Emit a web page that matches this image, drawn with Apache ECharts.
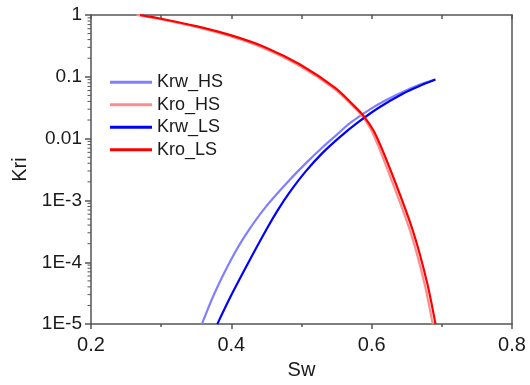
<!DOCTYPE html>
<html>
<head>
<meta charset="utf-8">
<script src="https://cdn.jsdelivr.net/npm/echarts@6/dist/echarts.min.js"></script>
<style>
html,body{margin:0;padding:0;background:#fff;}
#chart{width:530px;height:385px;}
</style>
</head>
<body>
<div id="chart"></div>
<script>
// ---- data ----
const swKrwHS = [0.358,0.376,0.398,0.419,0.448,0.483,0.506,0.530,0.550,0.569,0.597,0.620,0.645,0.668,0.690];
const krwHS   = [1e-5,3.16e-5,1.02e-4,2.63e-4,7.59e-4,2.14e-3,3.98e-3,7.24e-3,0.0115,0.0178,0.0295,0.0417,0.0575,0.0741,0.0902];

const swKroHS = [0.265,0.295,0.345,0.395,0.443,0.494,0.545,0.573,0.587,0.602,0.626,0.655,0.675,0.687];
const kroHS   = [1.0,0.871,0.661,0.468,0.302,0.158,0.0661,0.0339,0.0229,0.0120,0.00251,3.16e-4,4.68e-5,1e-5];

const swKrwLS = [0.380,0.400,0.4255,0.450,0.466,0.483,0.506,0.530,0.555,0.579,0.610,0.645,0.668,0.691];
const krwLS   = [1e-5,2.95e-5,1.05e-4,3.39e-4,6.92e-4,1.35e-3,2.95e-3,5.89e-3,0.0107,0.0178,0.0316,0.0537,0.0708,0.0902];

const swKroLS = [0.270,0.300,0.350,0.400,0.448,0.498,0.548,0.575,0.589,0.605,0.630,0.659,0.679,0.691];
const kroLS   = [1.0,0.871,0.661,0.468,0.302,0.158,0.0661,0.0339,0.0229,0.0120,0.00251,3.16e-4,4.68e-5,1e-5];

const seriesNames = ['Krw_HS','Kro_HS','Krw_LS','Kro_LS'];
const xTickLabels = ['0.2','0.4','0.6','0.8'];
const yTickLabels = ['1E-5','1E-4','1E-3','0.01','0.1','1'];
const yMinorMantissas = [2,3,4,5,6,7,8,9];
const yDecades = [-5,-4,-3,-2,-1];

// ---- build ----
const pairs = (xs, ys) => xs.map((x, i) => [x, ys[i]]);
const minorTickData = [];
yDecades.forEach(d => yMinorMantissas.forEach(m => minorTickData.push([0.2, m * Math.pow(10, d)])));

const FONT = 'Liberation Sans, Arial, sans-serif';
const AX = '#555';
const TXT = '#1a1a1a';
const colors = ['#8080ff', '#ff8c8c', '#0000ff', '#ff0000'];
const dataSets = [pairs(swKrwHS, krwHS), pairs(swKroHS, kroHS), pairs(swKrwLS, krwLS), pairs(swKroLS, kroLS)];

const chart = echarts.init(document.getElementById('chart'), null, {renderer: 'canvas'});
chart.setOption({
  animation: false,
  textStyle: {fontFamily: FONT},
  grid: {left: 91, right: 18, top: 15, bottom: 59, containLabel: false},
  legend: {
    data: seriesNames,
    orient: 'vertical',
    left: 110, top: 73, padding: 0,
    icon: 'rect',
    itemWidth: 42, itemHeight: 3,
    itemGap: 4,
    textStyle: {fontFamily: FONT, fontSize: 18, color: TXT, lineHeight: 18.5, padding: [0,0,0,0]},
    selectedMode: false
  },
  xAxis: [{
    type: 'value', min: 0.2, max: 0.8, interval: 0.2,
    name: 'Sw', nameLocation: 'middle', nameGap: 34,
    nameTextStyle: {fontFamily: FONT, fontSize: 20, color: TXT},
    axisLine: {show: true, lineStyle: {color: AX, width: 1.5}},
    axisTick: {show: true, inside: false, length: 5, lineStyle: {color: AX, width: 1.5}},
    minorTick: {show: true, splitNumber: 2, length: 3, lineStyle: {color: AX, width: 1.5}},
    axisLabel: {fontFamily: FONT, fontSize: 20, color: TXT, margin: 11,
      formatter: v => xTickLabels[Math.round((v - 0.2) / 0.2)] ?? ''},
    splitLine: {show: false}
  }, {
    type: 'value', min: 0.2, max: 0.8, interval: 0.1, position: 'top',
    axisLine: {show: true, lineStyle: {color: AX, width: 1.5}},
    axisTick: {show: true, inside: true, length: 4, lineStyle: {color: AX, width: 1.5}},
    axisLabel: {show: false}, splitLine: {show: false}
  }],
  yAxis: [{
    type: 'log', logBase: 10, min: 1e-5, max: 1, interval: 1,
    name: 'Kri', nameLocation: 'middle', nameGap: 58, nameRotate: 90,
    nameTextStyle: {fontFamily: FONT, fontSize: 20, color: TXT},
    axisLine: {show: true, lineStyle: {color: AX, width: 1.5}},
    axisTick: {show: true, inside: false, length: 6, lineStyle: {color: AX, width: 1.5}},
    minorTick: {show: false},
    axisLabel: {fontFamily: FONT, fontSize: 19, color: TXT, margin: 9,
      formatter: v => yTickLabels[Math.round(Math.log10(v)) + 5] ?? ''},
    splitLine: {show: false}
  }, {
    type: 'log', logBase: 10, min: 1e-5, max: 1, position: 'right',
    axisLine: {show: true, lineStyle: {color: AX, width: 1.5}},
    axisTick: {show: false}, axisLabel: {show: false}, splitLine: {show: false}
  }],
  series: [
    {
      type: 'custom', name: 'minorTicks', xAxisIndex: 0, yAxisIndex: 0,
      data: minorTickData, silent: true, clip: false,
      renderItem: (params, api) => {
        const p = api.coord([api.value(0), api.value(1)]);
        return {type: 'line', shape: {x1: p[0] - 3.5, y1: p[1], x2: p[0], y2: p[1]},
                style: {stroke: AX, lineWidth: 1}};
      }
    },
    ...seriesNames.map((n, i) => ({
      type: 'line', name: n, data: dataSets[i], xAxisIndex: 0, yAxisIndex: 0,
      showSymbol: false, symbol: 'none', smooth: 0.3, z: 3 + i,
      lineStyle: {color: colors[i], width: 2.2},
      itemStyle: {color: colors[i]}
    }))
  ]
});
</script>
</body>
</html>
